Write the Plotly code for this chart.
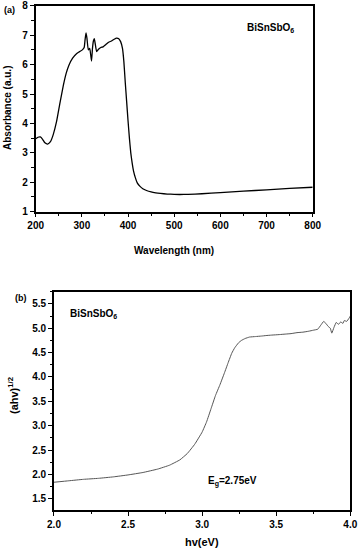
import plotly.graph_objects as go

# Panel (a): absorbance spectrum
wavelength = [200, 205, 210, 215, 220, 226, 232, 238, 245, 252, 260, 266, 272, 280, 289, 295, 301, 305, 307, 309, 311, 314, 317, 319, 321, 323, 325, 327, 329, 332, 336, 341, 346, 352, 358, 364, 370, 375, 380, 384, 388, 391, 394, 397, 400, 403, 406, 409, 412, 416, 420, 426, 432, 440, 450, 460, 470, 485, 500, 512, 530, 560, 600, 650, 700, 750, 800]
absorbance = [3.48, 3.53, 3.54, 3.46, 3.34, 3.30, 3.38, 3.62, 4.05, 4.65, 5.30, 5.70, 5.98, 6.22, 6.38, 6.44, 6.50, 6.58, 6.85, 7.08, 6.90, 6.50, 6.55, 6.35, 6.12, 6.55, 6.80, 6.88, 6.70, 6.44, 6.52, 6.58, 6.60, 6.68, 6.76, 6.80, 6.86, 6.90, 6.88, 6.78, 6.55, 6.10, 5.40, 4.75, 4.10, 3.50, 3.00, 2.65, 2.38, 2.15, 1.98, 1.86, 1.78, 1.72, 1.67, 1.64, 1.62, 1.60, 1.59, 1.585, 1.59, 1.61, 1.65, 1.70, 1.74, 1.79, 1.83]

# Panel (b): Tauc plot
energy = [2.00, 2.10, 2.20, 2.30, 2.40, 2.50, 2.60, 2.70, 2.78, 2.85, 2.90, 2.95, 3.00, 3.03, 3.06, 3.09, 3.12, 3.15, 3.175, 3.20, 3.22, 3.245, 3.265, 3.29, 3.32, 3.36, 3.40, 3.43, 3.47, 3.52, 3.56, 3.60, 3.64, 3.68, 3.72, 3.75, 3.78, 3.80, 3.82, 3.835, 3.85, 3.865, 3.875, 3.89, 3.905, 3.92, 3.935, 3.95, 3.96, 3.975, 3.99, 4.00]
tauc = [1.84, 1.87, 1.90, 1.92, 1.95, 1.99, 2.04, 2.11, 2.19, 2.30, 2.43, 2.62, 2.87, 3.08, 3.35, 3.62, 3.84, 4.08, 4.29, 4.49, 4.60, 4.70, 4.75, 4.79, 4.82, 4.83, 4.84, 4.85, 4.86, 4.87, 4.88, 4.89, 4.91, 4.92, 4.94, 4.96, 4.98, 5.06, 5.14, 5.10, 5.04, 5.00, 4.90, 5.02, 5.12, 5.08, 5.13, 5.10, 5.16, 5.14, 5.20, 5.25]

FONT = "Liberation Sans"

fig = go.Figure()
fig.add_trace(go.Scatter(x=wavelength, y=absorbance, mode="lines",
                         line=dict(color="black", width=1.3, shape="spline", smoothing=0.4),
                         xaxis="x", yaxis="y", showlegend=False, hoverinfo="skip"))
fig.add_trace(go.Scatter(x=energy, y=tauc, mode="lines",
                         line=dict(color="#555555", width=1, shape="spline", smoothing=0.3),
                         xaxis="x2", yaxis="y2", showlegend=False, hoverinfo="skip"))

axis_common = dict(showgrid=False, zeroline=False, showline=True, linecolor="black",
                   linewidth=1.6, mirror=True, ticks="outside", ticklen=4, tickwidth=1.4,
                   tickcolor="black", ticklabeloverflow="allow", automargin=False,
                   tickfont=dict(family=FONT, size=10, color="black", weight="bold"))

minor_common = dict(ticks="outside", ticklen=2.5, tickwidth=1.2, tickcolor="black")

fig.update_layout(
    template="none",
    width=359, height=550, margin=dict(l=0, r=0, t=0, b=0, pad=0),
    paper_bgcolor="white", plot_bgcolor="white",
    xaxis=dict(axis_common, domain=[0.0994, 0.871], anchor="y", range=[200, 800],
               tickvals=[200, 300, 400, 500, 600, 700, 800],
               minor=dict(minor_common, dtick=50)),
    yaxis=dict(axis_common, domain=[0.6151, 0.9896], anchor="x", range=[1, 8],
               tickvals=[1, 2, 3, 4, 5, 6, 7, 8],
               minor=dict(minor_common, dtick=0.5)),
    xaxis2=dict(axis_common, domain=[0.1504, 0.9758], anchor="y2", range=[2.0, 4.0],
                tickvals=[2.0, 2.5, 3.0, 3.5, 4.0], ticktext=["2.0", "2.5", "3.0", "3.5", "4.0"],
                minor=dict(minor_common, dtick=0.25)),
    yaxis2=dict(axis_common, domain=[0.0727, 0.4696], anchor="x2", range=[1.27, 5.75],
                tickvals=[1.5, 2.0, 2.5, 3.0, 3.5, 4.0, 4.5, 5.0, 5.5],
                ticktext=["1.5", "2.0", "2.5", "3.0", "3.5", "4.0", "4.5", "5.0", "5.5"],
                minor=dict(minor_common, dtick=0.25)),
)

def ann(text, x, y, size=10, angle=0, xanchor="center", yanchor="middle"):
    fig.add_annotation(text=text, x=x / 359, y=1 - y / 550, xref="paper", yref="paper",
                       showarrow=False, textangle=angle, xanchor=xanchor, yanchor=yanchor,
                       font=dict(family=FONT, size=size, color="black", weight="bold"))

ann("(a)", 2, 10, size=9, xanchor="left")
ann("Absorbance (a.u.)", 8, 108, size=10, angle=-90)
ann("Wavelength (nm)", 174, 251, size=10)
ann("BiSnSbO<sub>6</sub>", 245, 28, size=10, xanchor="left")

ann("(b)", 13, 298, size=9, xanchor="left")
ann("(ahv)<sup>1/2</sup>", 13, 396, size=11, angle=-90)
ann("hv(eV)", 202, 542, size=11)
ann("BiSnSbO<sub>6</sub>", 68, 314, size=10, xanchor="left")
ann("E<sub>g</sub>=2.75eV", 206, 481, size=10, xanchor="left")

fig.write_html("out.html", config={"displayModeBar": False},
               post_script="document.body.style.margin='0';")
